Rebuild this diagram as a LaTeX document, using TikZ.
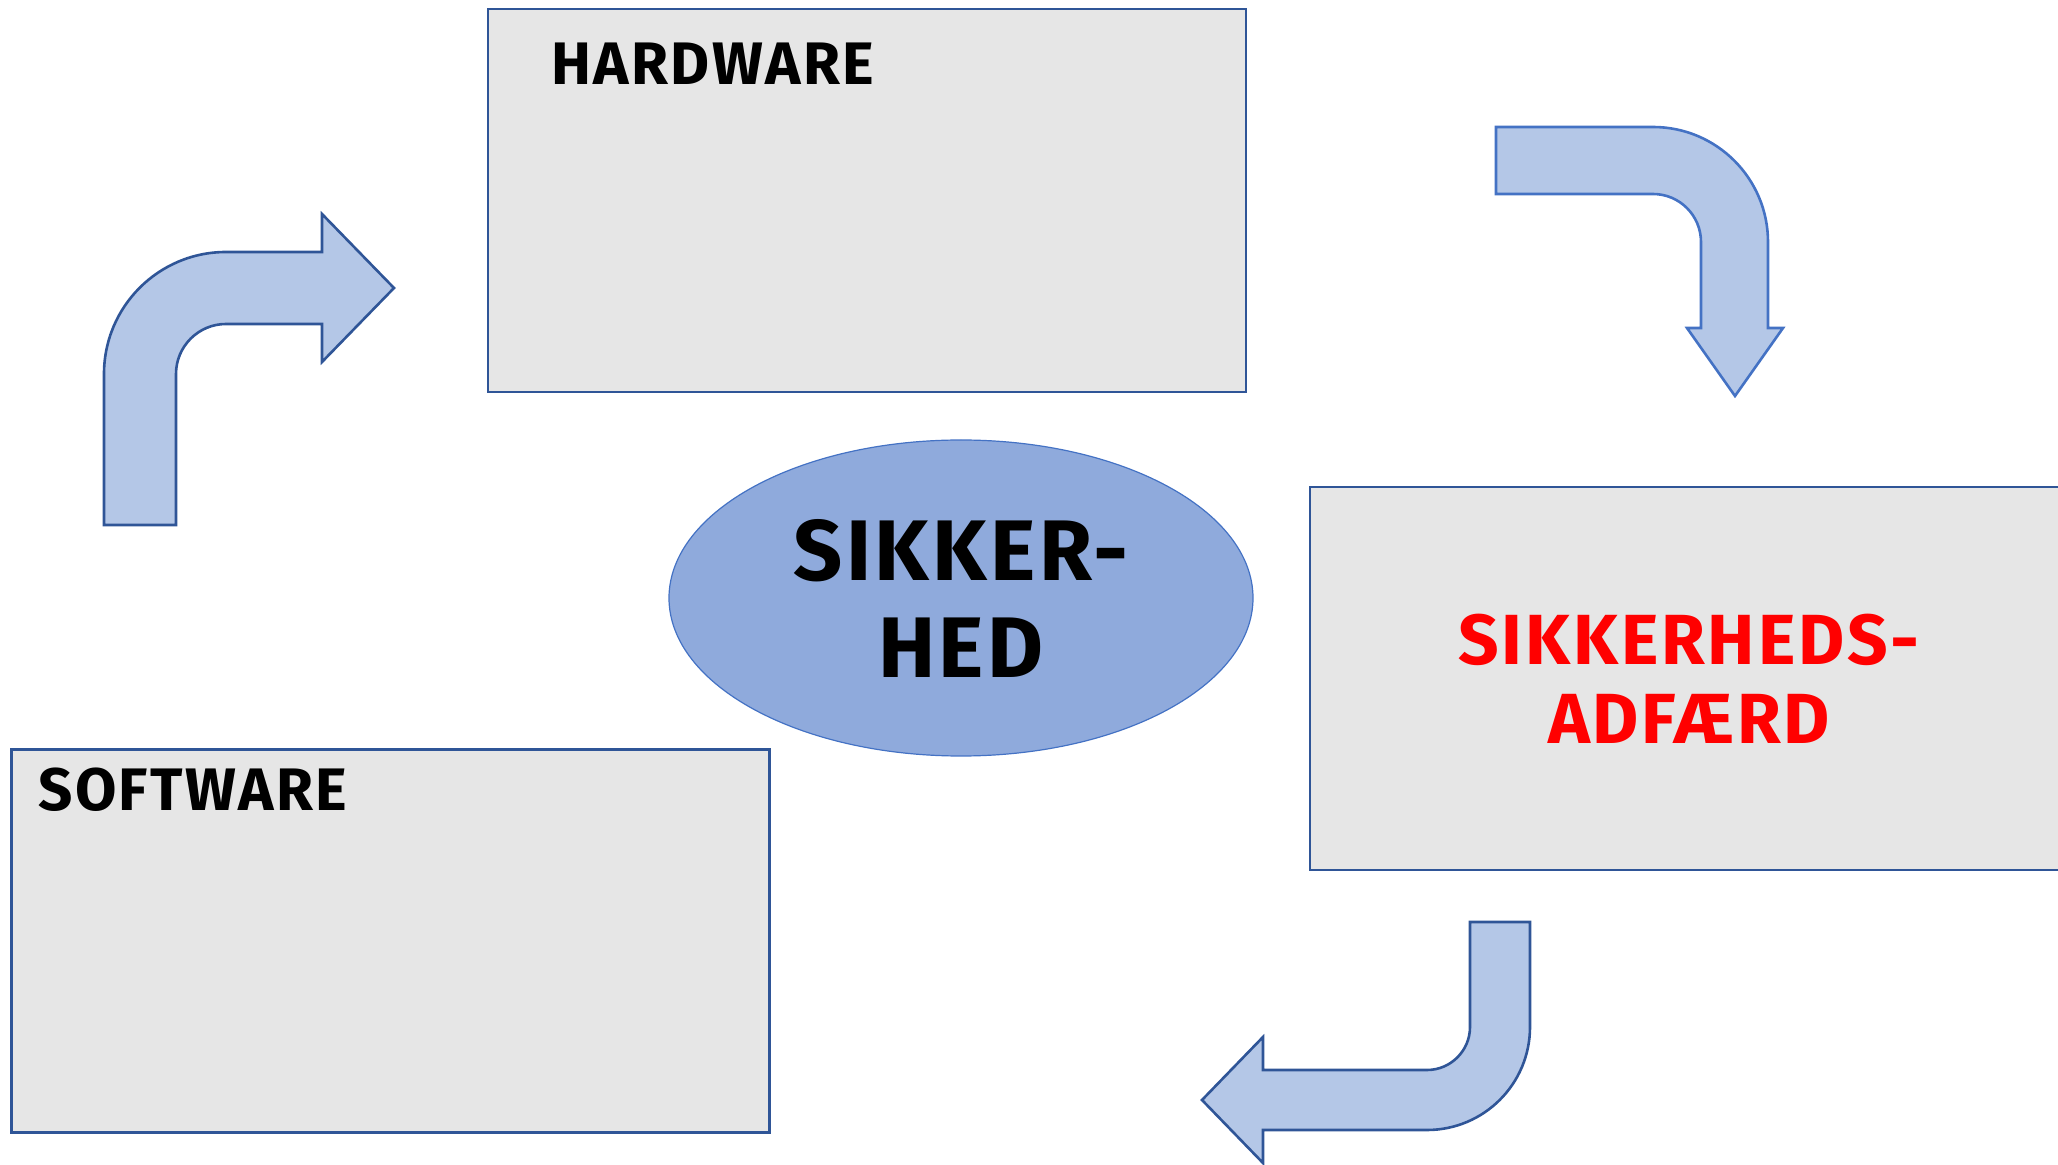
\documentclass[tikz,border=0pt]{standalone}
\usepackage{fontspec}
\setmainfont{Fira Sans}[LetterSpace=4]
\usetikzlibrary{shapes.geometric}
\definecolor{arrowfill}{HTML}{B4C7E7}
\definecolor{darkline}{HTML}{2F5597}
\definecolor{midline}{HTML}{4472C4}
\definecolor{boxfill}{HTML}{E6E6E6}
\definecolor{ellfill}{HTML}{8FAADC}
\definecolor{redtext}{HTML}{FF0000}
\tikzset{
  bigbox/.style={draw=darkline, fill=boxfill, line width=1.3pt, rectangle,
    minimum width=379pt, minimum height=191.5pt, inner sep=0pt},
  boxlabel/.style={anchor=base west, inner sep=0pt, font=\bfseries\fontsize{30}{34}\selectfont},
  bentarrow/.style={fill=arrowfill, draw=darkline, line width=1.3pt, line join=miter},
  centreell/.style={ellipse, draw=midline, fill=ellfill, line width=0.6pt,
    minimum width=292pt, minimum height=158pt, inner sep=0pt, align=center,
    font=\bfseries\fontsize{43}{48.5}\selectfont},
}
\begin{document}
\begin{tikzpicture}[x=0.5pt, y=-0.5pt]
\useasboundingbox (0,0) rectangle (2058,1165);
\clip (0,0) rectangle (2058,1165);
% boxes
\node[bigbox] (hw) at (867,200.5) {};
\node[bigbox] (sw) at (390.5,941) {};
\node[bigbox] (adf) at (1689,678.5) {};
\node[boxlabel] (hwtext) at (551,85) {HARDWARE};
\node[boxlabel] (swtext) at (38,811) {SOFTWARE};
\node[align=center, inner sep=0pt, text=redtext, font=\bfseries\fontsize{35.5}{39.5}\selectfont] (adftext) at (adf.center) {SIKKERHEDS-\\ADFÆRD};
% centre
\node[centreell] (sik) at (961,598) {SIKKER-\\HED};
% arrow 1 (up, then right)
\draw[bentarrow] (104,525) -- (104,374) .. controls (104,306.6) and (158.6,252) .. (226,252)
  -- (322,252) -- (322,214) -- (394,288) -- (322,362) -- (322,324) -- (226,324)
  .. controls (198.4,324) and (176,346.4) .. (176,374) -- (176,525) -- cycle;
% arrow 2 (right, then down)
\draw[bentarrow, draw=midline] (1496,127) -- (1653,127) .. controls (1716.5,127) and (1768,178.5) .. (1768,242)
  -- (1768,328) -- (1783,328) -- (1735,396) -- (1687,328) -- (1701,328) -- (1701,242)
  .. controls (1701,215.5) and (1679.5,194) .. (1653,194) -- (1496,194) -- cycle;
% arrow 3 (down, then left)
\draw[bentarrow] (1470,922) -- (1530,922) -- (1530,1027) .. controls (1530,1083.9) and (1483.9,1130) .. (1427,1130)
  -- (1263,1130) -- (1263,1163) -- (1202,1100) -- (1263,1037) -- (1263,1070) -- (1427,1070)
  .. controls (1450.7,1070) and (1470,1050.7) .. (1470,1027) -- cycle;
\end{tikzpicture}
\end{document}
